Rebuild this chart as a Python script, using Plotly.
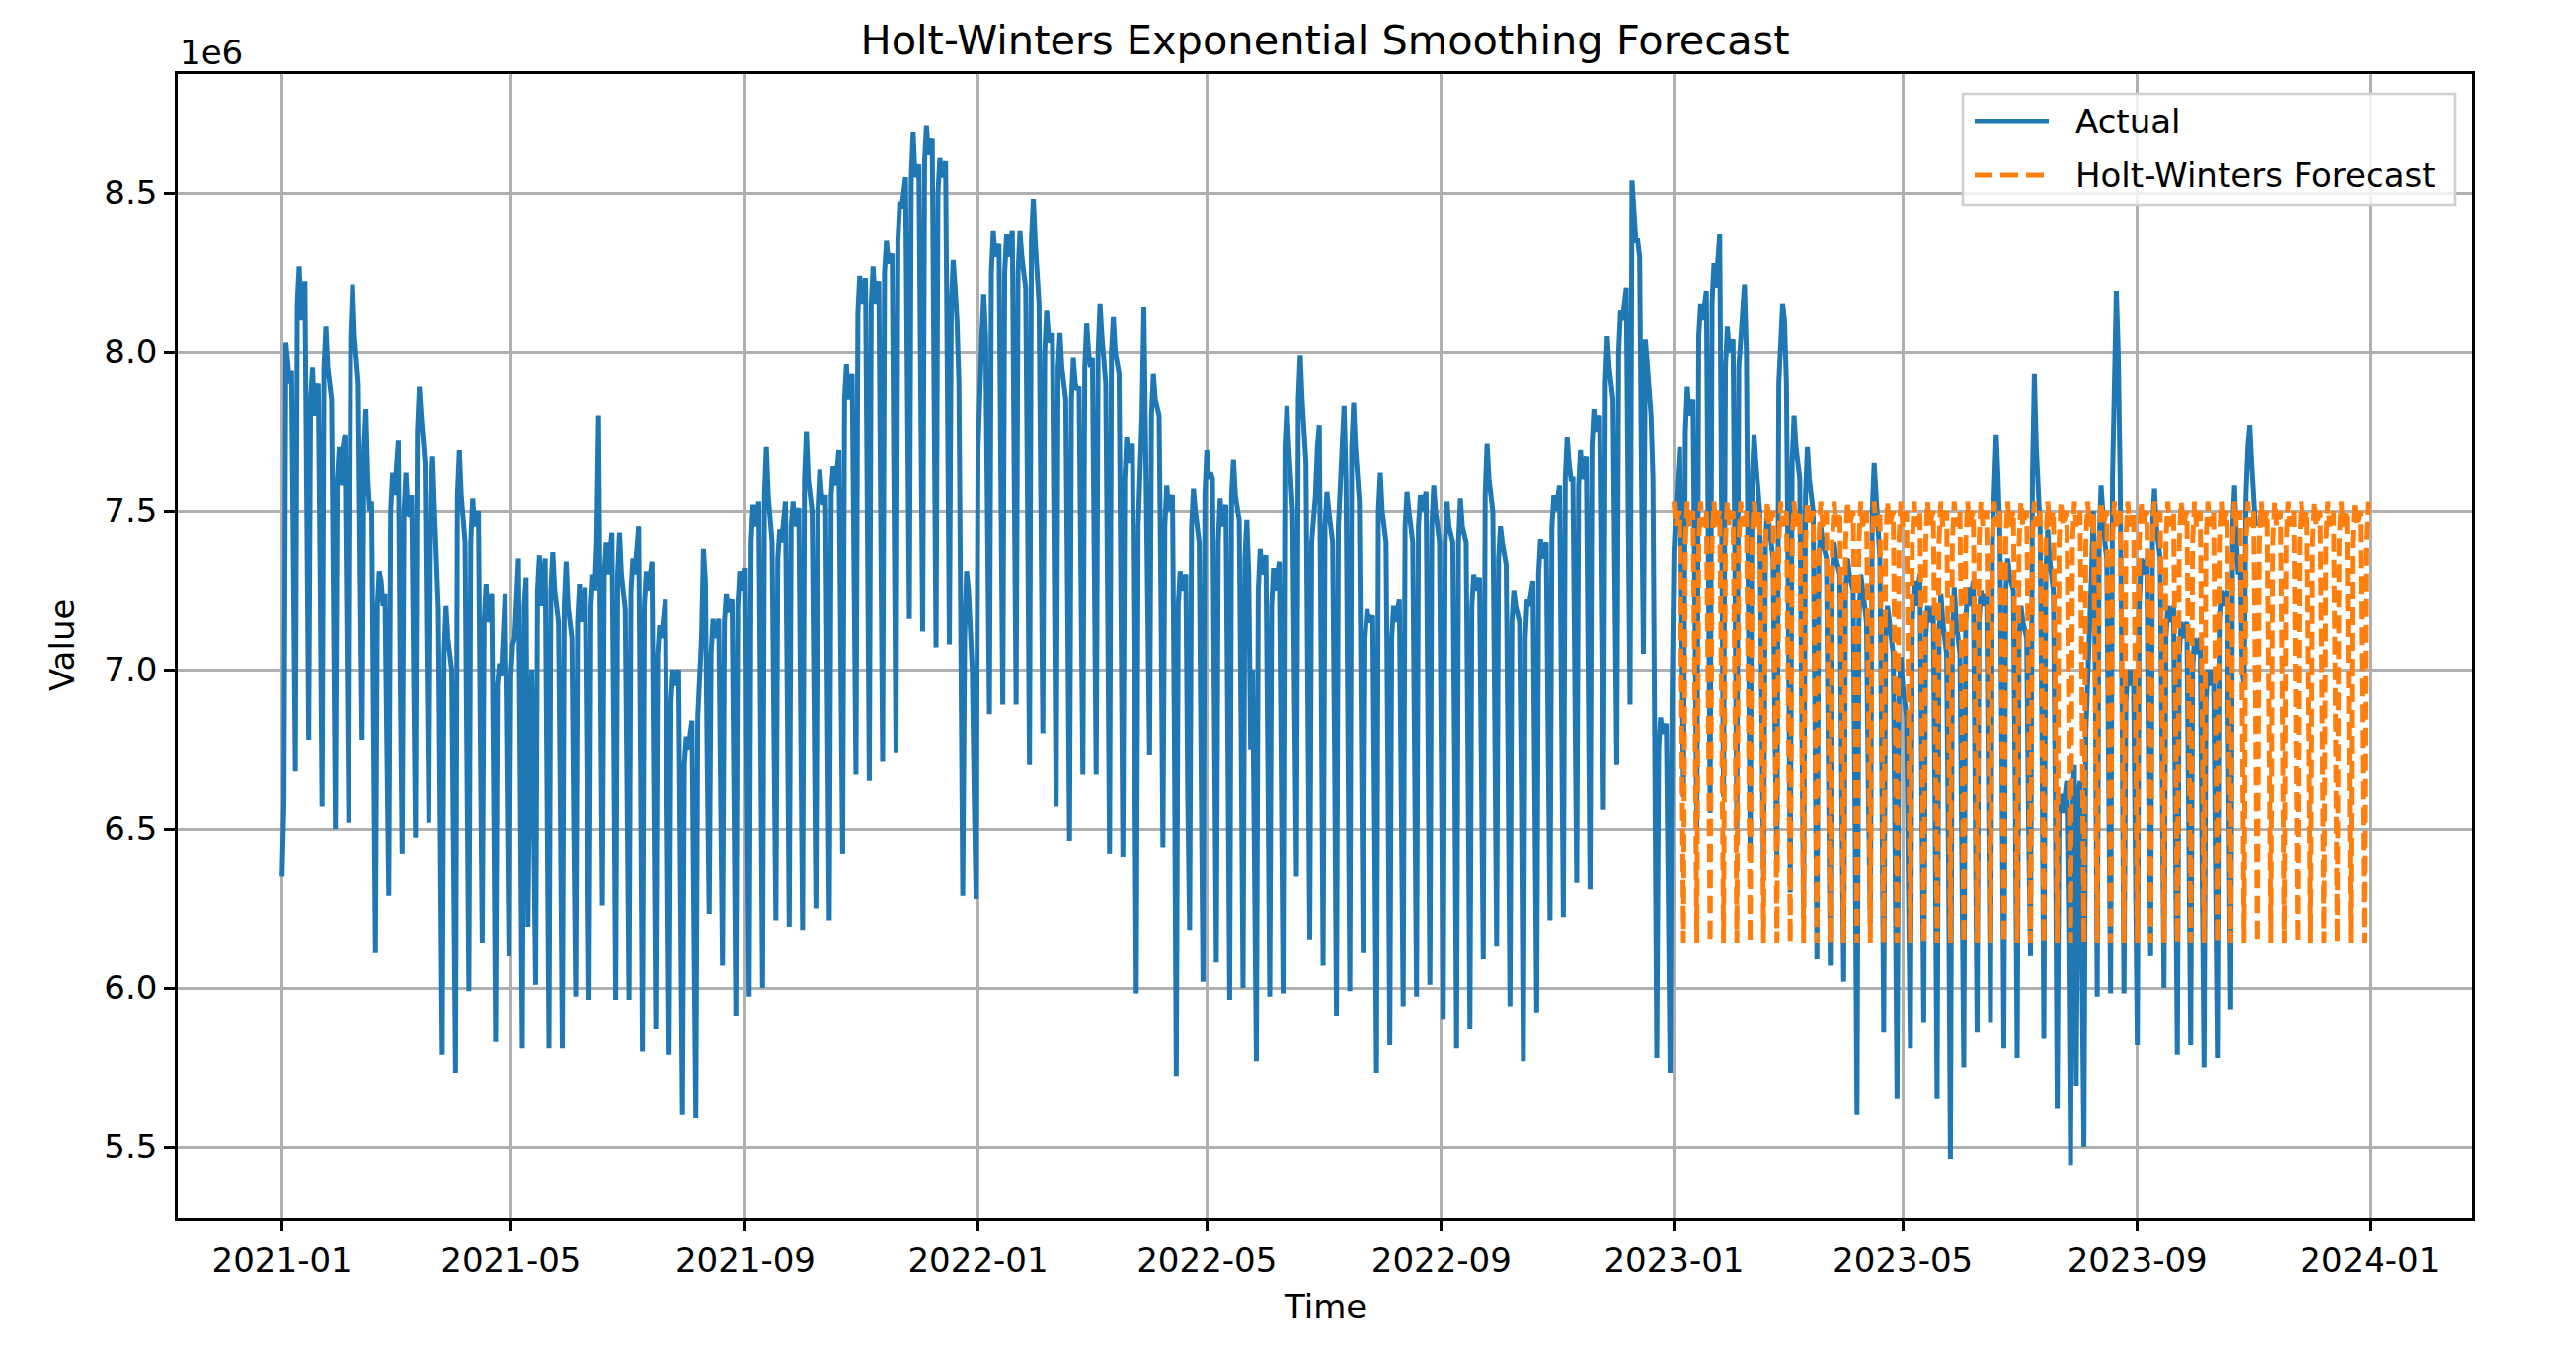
import plotly.graph_objects as go
import pandas as pd

# ---------------- data (values in units of 1e6) ----------------
actual_start = "2021-01-01"
actual_values = [
    6.35, 6.58, 8.03, 7.95, 7.90, 7.94, 7.35,
    6.68, 8.15, 8.27, 8.10, 8.18, 8.22, 7.50,
    6.78, 7.85, 7.95, 7.80, 7.86, 7.90, 7.30,
    6.57, 7.95, 8.08, 7.95, 7.90, 7.85, 7.20,
    6.50, 7.60, 7.70, 7.58, 7.70, 7.74, 7.10,
    6.52, 8.05, 8.21, 8.05, 7.95, 7.90, 7.30,
    6.78, 7.70, 7.82, 7.60, 7.50, 7.53, 6.85,
    6.11, 7.20, 7.31, 7.28, 7.20, 7.24, 6.75,
    6.29, 7.50, 7.62, 7.55, 7.65, 7.72, 7.00,
    6.42, 7.50, 7.62, 7.50, 7.48, 7.55, 7.00,
    6.47, 7.75, 7.89, 7.80, 7.70, 7.65, 7.05,
    6.52, 7.55, 7.67, 7.50, 7.35, 7.19, 6.50,
    5.79, 7.05, 7.20, 7.10, 7.05, 7.00, 6.40,
    5.73, 7.55, 7.69, 7.55, 7.45, 7.40, 6.70,
    5.99, 7.40, 7.54, 7.45, 7.48, 7.50, 6.80,
    6.14, 7.15, 7.27, 7.15, 7.20, 7.24, 6.60,
    5.83, 6.95, 7.02, 6.98, 7.15, 7.24, 6.65,
    6.10, 6.98, 7.08, 7.10, 7.25, 7.35, 6.60,
    5.81, 7.20, 7.29, 6.19, 6.81, 7.00, 6.50,
    6.01, 7.25, 7.36, 7.20, 7.30, 7.35, 6.60,
    5.81, 7.25, 7.37, 7.25, 7.20, 7.15, 6.55,
    5.81, 7.20, 7.34, 7.20, 7.15, 7.10, 6.50,
    5.97, 7.15, 7.27, 7.15, 7.20, 7.26, 6.60,
    5.96, 7.20, 7.30, 7.25, 7.40, 7.80, 7.10,
    6.26, 7.30, 7.40, 7.30, 7.38, 7.43, 6.80,
    5.96, 7.30, 7.43, 7.30, 7.25, 7.19, 6.60,
    5.96, 7.25, 7.35, 7.30, 7.40, 7.45, 6.70,
    5.80, 7.20, 7.31, 7.25, 7.30, 7.34, 6.60,
    5.87, 7.05, 7.14, 7.10, 7.18, 7.22, 6.50,
    5.79, 6.90, 7.00, 6.95, 6.97, 7.00, 6.30,
    5.60, 6.70, 6.79, 6.75, 6.80, 6.84, 6.20,
    5.59, 6.85, 7.00, 7.10, 7.38, 7.28, 6.70,
    6.23, 7.05, 7.16, 7.10, 7.12, 7.16, 6.60,
    6.07, 7.15, 7.24, 7.18, 7.20, 7.22, 6.60,
    5.91, 7.20, 7.31, 7.25, 7.28, 7.32, 6.60,
    5.97, 7.40, 7.52, 7.45, 7.50, 7.53, 6.80,
    6.00, 7.55, 7.70, 7.55, 7.45, 7.40, 6.80,
    6.21, 7.35, 7.44, 7.40, 7.48, 7.53, 6.90,
    6.19, 7.45, 7.53, 7.45, 7.48, 7.51, 6.85,
    6.18, 7.60, 7.75, 7.60, 7.55, 7.50, 6.90,
    6.25, 7.50, 7.63, 7.55, 7.52, 7.55, 6.90,
    6.21, 7.55, 7.64, 7.58, 7.62, 7.69, 7.05,
    6.42, 7.85, 7.96, 7.85, 7.90, 7.93, 7.30,
    6.67, 8.12, 8.24, 8.15, 8.20, 8.23, 7.45,
    6.65, 8.15, 8.27, 8.15, 8.18, 8.22, 7.45,
    6.71, 8.25, 8.35, 8.28, 8.30, 8.31, 7.50,
    6.74, 8.35, 8.47, 8.45, 8.50, 8.55, 7.85,
    7.16, 8.55, 8.69, 8.55, 8.57, 8.59, 7.85,
    7.12, 8.60, 8.71, 8.62, 8.65, 8.67, 7.85,
    7.07, 8.50, 8.61, 8.55, 8.58, 8.60, 7.85,
    7.08, 8.15, 8.29, 8.20, 8.10, 7.90, 7.00,
    6.29, 7.10, 7.31, 7.25, 7.15, 7.00, 6.60,
    6.28, 7.69, 7.90, 8.05, 8.18, 8.05, 7.45,
    6.86, 8.25, 8.38, 8.30, 8.32, 8.34, 7.60,
    6.89, 8.25, 8.37, 8.30, 8.35, 8.38, 7.60,
    6.89, 8.25, 8.38, 8.30, 8.25, 8.20, 7.50,
    6.70, 8.35, 8.48, 8.35, 8.25, 8.15, 7.50,
    6.80, 8.00, 8.13, 8.05, 8.03, 8.06, 7.30,
    6.57, 7.95, 8.06, 7.95, 7.90, 7.85, 7.20,
    6.46, 7.85, 7.98, 7.90, 7.88, 7.89, 7.25,
    6.67, 7.95, 8.09, 8.00, 7.95, 7.98, 7.30,
    6.67, 8.00, 8.15, 8.05, 7.95, 7.90, 7.20,
    6.42, 8.00, 8.11, 8.00, 7.95, 7.93, 7.20,
    6.41, 7.60, 7.73, 7.65, 7.68, 7.71, 6.90,
    5.98, 7.45, 7.60, 7.80, 8.14, 7.70, 7.10,
    6.73, 7.80, 7.93, 7.85, 7.82, 7.80, 7.20,
    6.44, 7.45, 7.58, 7.50, 7.52, 7.55, 6.80,
    5.72, 7.20, 7.31, 7.25, 7.28, 7.30, 6.60,
    6.18, 7.45, 7.57, 7.50, 7.45, 7.40, 6.70,
    6.02, 7.55, 7.69, 7.60, 7.62, 7.60, 6.90,
    6.08, 7.40, 7.54, 7.45, 7.50, 7.52, 6.80,
    5.96, 7.55, 7.66, 7.55, 7.50, 7.47, 6.80,
    6.00, 7.35, 7.47, 7.30, 6.75, 7.00, 6.50,
    5.77, 7.25, 7.38, 7.30, 7.33, 7.36, 6.70,
    5.97, 7.20, 7.32, 7.25, 7.30, 7.34, 6.70,
    5.98, 7.70, 7.83, 7.70, 7.60, 7.50, 6.90,
    6.35, 7.85, 7.99, 7.85, 7.75, 7.65, 6.90,
    6.15, 7.40, 7.48, 7.55, 7.70, 7.77, 7.00,
    6.07, 7.45, 7.56, 7.50, 7.45, 7.40, 6.75,
    5.91, 7.45, 7.60, 7.70, 7.83, 7.60, 6.90,
    5.99, 7.70, 7.84, 7.70, 7.60, 7.53, 6.85,
    6.11, 7.10, 7.19, 7.15, 7.16, 7.17, 6.50,
    5.73, 7.50, 7.62, 7.50, 7.45, 7.40, 6.70,
    5.82, 7.10, 7.20, 7.15, 7.18, 7.22, 6.60,
    5.94, 7.45, 7.56, 7.50, 7.45, 7.40, 6.70,
    5.97, 7.45, 7.55, 7.50, 7.53, 7.56, 6.80,
    6.01, 7.45, 7.58, 7.50, 7.45, 7.40, 6.70,
    5.90, 7.40, 7.53, 7.45, 7.42, 7.40, 6.70,
    5.81, 7.40, 7.54, 7.45, 7.42, 7.40, 6.70,
    5.87, 7.20, 7.30, 7.25, 7.27, 7.29, 6.70,
    6.09, 7.55, 7.71, 7.60, 7.55, 7.50, 6.85,
    6.13, 7.35, 7.45, 7.40, 7.35, 7.33, 6.70,
    5.94, 7.15, 7.25, 7.20, 7.18, 7.15, 6.60,
    5.77, 7.10, 7.22, 7.20, 7.25, 7.28, 6.60,
    5.92, 7.30, 7.41, 7.35, 7.38, 7.40, 6.80,
    6.21, 7.45, 7.55, 7.50, 7.55, 7.58, 6.90,
    6.22, 7.60, 7.73, 7.65, 7.60, 7.60, 7.00,
    6.33, 7.58, 7.69, 7.60, 7.65, 7.67, 7.00,
    6.31, 7.70, 7.82, 7.75, 7.78, 7.80, 7.15,
    6.56, 7.90, 8.05, 7.95, 7.90, 7.85, 7.25,
    6.70, 8.00, 8.13, 8.10, 8.15, 8.20, 7.50,
    6.89, 8.54, 8.45, 8.35, 8.35, 8.30, 7.60,
    7.05, 8.04, 7.95, 7.91, 7.80, 7.60, 6.80,
    5.78, 6.75, 6.85, 6.80, 6.82, 6.83, 6.30,
    5.73, 6.90, 7.37, 7.50, 7.60, 7.70, 7.20,
    6.60, 7.75, 7.89, 7.80, 7.82, 7.85, 7.20,
    6.50, 8.05, 8.15, 8.10, 8.15, 8.19, 7.40,
    6.55, 8.15, 8.28, 8.20, 8.30, 8.37, 7.50,
    6.60, 7.95, 8.08, 8.00, 8.02, 8.04, 7.30,
    6.50, 7.95, 8.05, 8.10, 8.21, 8.00, 7.20,
    6.40, 7.60, 7.74, 7.65, 7.55, 7.50, 6.90,
    6.35, 7.40, 7.50, 7.45, 7.40, 7.35, 6.80,
    6.40, 7.90, 8.05, 8.15, 8.10, 7.90, 7.20,
    6.30, 7.65, 7.80, 7.70, 7.65, 7.60, 6.90,
    6.25, 7.55, 7.70, 7.60, 7.55, 7.50, 6.80,
    6.09, 7.35, 7.45, 7.40, 7.38, 7.35, 6.70,
    6.07, 7.30, 7.40, 7.35, 7.33, 7.30, 6.60,
    6.02, 7.25, 7.35, 7.30, 7.28, 7.25, 6.50,
    5.60, 7.15, 7.30, 7.25, 7.20, 7.15, 6.60,
    6.20, 7.50, 7.65, 7.55, 7.45, 7.35, 6.70,
    5.86, 7.10, 7.20, 7.15, 7.10, 7.05, 6.40,
    5.65, 6.90, 7.04, 6.95, 6.90, 6.85, 6.30,
    5.81, 7.15, 7.28, 7.20, 7.25, 7.30, 6.60,
    5.89, 7.10, 7.20, 7.15, 7.18, 7.20, 6.50,
    5.65, 7.10, 7.24, 7.15, 7.10, 7.05, 6.40,
    5.46, 7.10, 7.26, 7.15, 7.10, 7.05, 6.40,
    5.75, 7.15, 7.26, 7.20, 7.25, 7.28, 6.60,
    5.86, 7.15, 7.25, 7.20, 7.22, 7.24, 6.60,
    5.89, 7.40, 7.55, 7.74, 7.60, 7.40, 6.70,
    5.81, 7.25, 7.35, 7.30, 7.28, 7.25, 6.60,
    5.78, 7.10, 7.20, 7.15, 7.12, 7.10, 6.50,
    6.10, 7.60, 7.93, 7.70, 7.55, 7.45, 6.80,
    5.84, 7.30, 7.44, 7.35, 7.30, 7.25, 6.60,
    5.62, 6.55, 6.61, 6.55, 6.60, 6.65, 6.20,
    5.44, 6.60, 6.70, 5.69, 6.60, 6.65, 6.10,
    5.50, 6.80, 6.95, 7.10, 7.30, 7.50, 7.00,
    5.97, 7.40, 7.58, 7.45, 7.40, 7.35, 6.70,
    5.98, 7.60, 7.90, 8.19, 8.00, 7.60, 6.90,
    5.98, 6.90, 7.00, 6.95, 6.98, 7.00, 6.40,
    5.82, 7.20, 7.35, 7.30, 7.32, 7.35, 6.60,
    6.10, 7.45, 7.57, 7.45, 7.40, 7.35, 6.70,
    6.00, 7.10, 7.20, 7.15, 7.18, 7.20, 6.50,
    5.79, 7.05, 7.15, 7.10, 7.12, 7.15, 6.50,
    5.82, 7.00, 7.10, 7.05, 7.08, 7.10, 6.40,
    5.75, 6.90, 7.00, 6.95, 6.98, 7.00, 6.40,
    5.78, 7.15, 7.25, 7.20, 7.22, 7.25, 6.60,
    5.93, 7.45, 7.58, 7.40, 7.30, 7.35, 7.00,
    6.95, 7.55, 7.70, 7.77, 7.65, 7.55, 7.45,
]

forecast_start = "2023-01-01"
forecast_values = [
    7.53, 7.45, 7.48, 7.50, 6.90, 6.14, 7.40,
    7.53, 7.45, 7.48, 7.50, 6.90, 6.14, 7.40,
    7.53, 7.45, 7.48, 7.50, 6.90, 6.14, 7.40,
    7.53, 7.45, 7.48, 7.50, 6.90, 6.14, 7.40,
    7.53, 7.45, 7.48, 7.50, 6.90, 6.14, 7.40,
    7.53, 7.45, 7.48, 7.50, 6.90, 6.14, 7.40,
    7.53, 7.45, 7.48, 7.50, 6.90, 6.14, 7.40,
    7.53, 7.45, 7.48, 7.50, 6.90, 6.14, 7.40,
    7.53, 7.45, 7.48, 7.50, 6.90, 6.14, 7.40,
    7.53, 7.45, 7.48, 7.50, 6.90, 6.14, 7.40,
    7.53, 7.45, 7.48, 7.50, 6.90, 6.14, 7.40,
    7.53, 7.45, 7.48, 7.50, 6.90, 6.14, 7.40,
    7.53, 7.45, 7.48, 7.50, 6.90, 6.14, 7.40,
    7.53, 7.45, 7.48, 7.50, 6.90, 6.14, 7.40,
    7.53, 7.45, 7.48, 7.50, 6.90, 6.14, 7.40,
    7.53, 7.45, 7.48, 7.50, 6.90, 6.14, 7.40,
    7.53, 7.45, 7.48, 7.50, 6.90, 6.14, 7.40,
    7.53, 7.45, 7.48, 7.50, 6.90, 6.14, 7.40,
    7.53, 7.45, 7.48, 7.50, 6.90, 6.14, 7.40,
    7.53, 7.45, 7.48, 7.50, 6.90, 6.14, 7.40,
    7.53, 7.45, 7.48, 7.50, 6.90, 6.14, 7.40,
    7.53, 7.45, 7.48, 7.50, 6.90, 6.14, 7.40,
    7.53, 7.45, 7.48, 7.50, 6.90, 6.14, 7.40,
    7.53, 7.45, 7.48, 7.50, 6.90, 6.14, 7.40,
    7.53, 7.45, 7.48, 7.50, 6.90, 6.14, 7.40,
    7.53, 7.45, 7.48, 7.50, 6.90, 6.14, 7.40,
    7.53, 7.45, 7.48, 7.50, 6.90, 6.14, 7.40,
    7.53, 7.45, 7.48, 7.50, 6.90, 6.14, 7.40,
    7.53, 7.45, 7.48, 7.50, 6.90, 6.14, 7.40,
    7.53, 7.45, 7.48, 7.50, 6.90, 6.14, 7.40,
    7.53, 7.45, 7.48, 7.50, 6.90, 6.14, 7.40,
    7.53, 7.45, 7.48, 7.50, 6.90, 6.14, 7.40,
    7.53, 7.45, 7.48, 7.50, 6.90, 6.14, 7.40,
    7.53, 7.45, 7.48, 7.50, 6.90, 6.14, 7.40,
    7.53, 7.45, 7.48, 7.50, 6.90, 6.14, 7.40,
    7.53, 7.45, 7.48, 7.50, 6.90, 6.14, 7.40,
    7.53, 7.45, 7.48, 7.50, 6.90, 6.14, 7.40,
    7.53, 7.45, 7.48, 7.50, 6.90, 6.14, 7.40,
    7.53, 7.45, 7.48, 7.50, 6.90, 6.14, 7.40,
    7.53, 7.45, 7.48, 7.50, 6.90, 6.14, 7.40,
    7.53, 7.45, 7.48, 7.50, 6.90, 6.14, 7.40,
    7.53, 7.45, 7.48, 7.50, 6.90, 6.14, 7.40,
    7.53, 7.45, 7.48, 7.50, 6.90, 6.14, 7.40,
    7.53, 7.45, 7.48, 7.50, 6.90, 6.14, 7.40,
    7.53, 7.45, 7.48, 7.50, 6.90, 6.14, 7.40,
    7.53, 7.45, 7.48, 7.50, 6.90, 6.14, 7.40,
    7.53, 7.45, 7.48, 7.50, 6.90, 6.14, 7.40,
    7.53, 7.45, 7.48, 7.50, 6.90, 6.14, 7.40,
    7.53, 7.45, 7.48, 7.50, 6.90, 6.14, 7.40,
    7.53, 7.45, 7.48, 7.50, 6.90, 6.14, 7.40,
    7.53, 7.45, 7.48, 7.50, 6.90, 6.14, 7.40,
    7.53, 7.45, 7.48, 7.50, 6.90, 6.14, 7.40,
    7.53,
]

x_tick_labels = ["2021-01", "2021-05", "2021-09", "2022-01", "2022-05",
                 "2022-09", "2023-01", "2023-05", "2023-09", "2024-01"]
y_tick_values = [5.5, 6.0, 6.5, 7.0, 7.5, 8.0, 8.5]
y_tick_labels = ["5.5", "6.0", "6.5", "7.0", "7.5", "8.0", "8.5"]

title_text = "Holt-Winters Exponential Smoothing Forecast"
x_title = "Time"
y_title = "Value"
y_exponent = "1e6"
series_names = ["Actual", "Holt-Winters Forecast"]

# ---------------- styling ----------------
W, H = 2609, 1367
L, R, T, B = 180, 2504, 75, 1233          # plot-area pixel box
BLUE, ORANGE = "#1f77b4", "#ff7f0e"
FONT = "DejaVu Sans"
LW = 5.0
FS = 34

def px_x(p):
    return (p - L) / (R - L)

def px_y(p):
    return 1 - (p - T) / (B - T)

actual_dates = pd.date_range(actual_start, periods=len(actual_values), freq="D")
forecast_dates = pd.date_range(forecast_start, periods=len(forecast_values), freq="D")

# matplotlib-like 5% margins
x_min = min(actual_dates[0], forecast_dates[0])
x_max = max(actual_dates[-1], forecast_dates[-1])
x_pad = (x_max - x_min) * 0.05
all_y = actual_values + forecast_values
y_pad = (max(all_y) - min(all_y)) * 0.05

fig = go.Figure()
fig.add_trace(go.Scatter(x=actual_dates, y=actual_values, mode="lines",
                         name=series_names[0],
                         line=dict(color=BLUE, width=LW)))
fig.add_trace(go.Scatter(x=forecast_dates, y=forecast_values, mode="lines",
                         name=series_names[1],
                         line=dict(color=ORANGE, width=LW, dash="18px,8px")))

fig.update_layout(
    width=W, height=H,
    margin=dict(l=L, r=W - R, t=T, b=H - B, pad=0),
    paper_bgcolor="white", plot_bgcolor="white",
    showlegend=False,
    font=dict(family=FONT, size=FS, color="black"),
    title=dict(text=title_text, x=0.5, xref="paper", xanchor="center",
               y=1 - 40 / H, yref="container", yanchor="middle",
               font=dict(family=FONT, size=41.5, color="black")),
)
fig.update_xaxes(
    type="date",
    range=[x_min - x_pad, x_max + x_pad],
    tickmode="array",
    tickvals=[t + "-01" for t in x_tick_labels],
    ticktext=x_tick_labels,
    ticks="outside", ticklen=11, tickwidth=2.7, tickcolor="black",
    showgrid=True, gridcolor="#b0b0b0", gridwidth=2.7,
    showline=True, linecolor="black", linewidth=2.7, mirror=True,
    zeroline=False,
    tickfont=dict(family=FONT, size=FS, color="black"),
)
fig.update_yaxes(
    range=[min(all_y) - y_pad, max(all_y) + y_pad],
    tickmode="array",
    tickvals=y_tick_values, ticktext=y_tick_labels,
    ticks="outside", ticklen=11, tickwidth=2.7, tickcolor="black",
    showgrid=True, gridcolor="#b0b0b0", gridwidth=2.7,
    showline=True, linecolor="black", linewidth=2.7, mirror=True,
    zeroline=False,
    tickfont=dict(family=FONT, size=FS, color="black"),
)

# axis titles and offset text
fig.add_annotation(text=x_title, x=0.5, xref="paper", y=px_y(1323), yref="paper",
                   showarrow=False, xanchor="center", yanchor="middle",
                   font=dict(family=FONT, size=FS, color="black"))
fig.add_annotation(text=y_title, x=px_x(63), xref="paper", y=0.5, yref="paper",
                   showarrow=False, textangle=-90, xanchor="center", yanchor="middle",
                   font=dict(family=FONT, size=FS, color="black"))
fig.add_annotation(text=y_exponent, x=0, xref="paper", y=px_y(53), yref="paper",
                   showarrow=False, xanchor="left", yanchor="middle",
                   font=dict(family=FONT, size=FS, color="black"))

# legend (matplotlib style, upper right)
fig.add_shape(type="rect", xref="paper", yref="paper",
              x0=px_x(1988), x1=px_x(2486), y0=px_y(95), y1=px_y(208),
              line=dict(color="#d0d0d0", width=2.7),
              fillcolor="rgba(255,255,255,0.8)", layer="above")
fig.add_shape(type="line", xref="paper", yref="paper",
              x0=px_x(2000), x1=px_x(2075), y0=px_y(123), y1=px_y(123),
              line=dict(color=BLUE, width=LW), layer="above")
fig.add_shape(type="line", xref="paper", yref="paper",
              x0=px_x(2000), x1=px_x(2075), y0=px_y(177), y1=px_y(177),
              line=dict(color=ORANGE, width=LW, dash="18px,8px"), layer="above")
fig.add_annotation(text=series_names[0], x=px_x(2100), xref="paper", y=px_y(123), yref="paper",
                   showarrow=False, xanchor="left", yanchor="middle",
                   font=dict(family=FONT, size=FS, color="black"))
fig.add_annotation(text=series_names[1], x=px_x(2100), xref="paper", y=px_y(177), yref="paper",
                   showarrow=False, xanchor="left", yanchor="middle",
                   font=dict(family=FONT, size=FS, color="black"))

fig.write_html("out.html", config={"displayModeBar": False},
               post_script="document.body.style.margin='0';document.body.style.overflow='hidden';")
